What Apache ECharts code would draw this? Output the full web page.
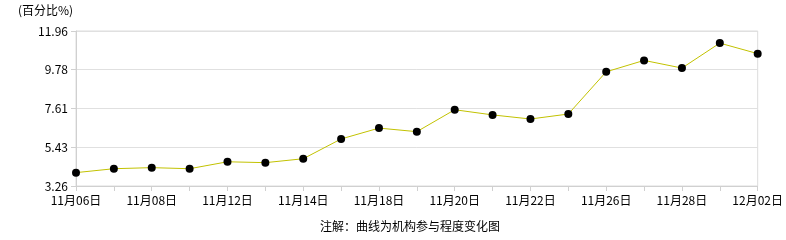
<!DOCTYPE html>
<html><head><meta charset="utf-8">
<script src="https://cdn.jsdelivr.net/npm/echarts@6/dist/echarts.min.js"></script>
<style>html,body{margin:0;padding:0;background:#fff}#c{width:786px;height:240px}</style>
</head><body><div id="c"></div>
<script>
const categories = ['11月06日','11月07日','11月08日','11月11日','11月12日','11月13日','11月14日','11月15日','11月18日','11月19日','11月20日','11月21日','11月22日','11月25日','11月26日','11月27日','11月28日','11月29日','12月02日'];
const values = [4.01,4.23,4.29,4.23,4.62,4.57,4.79,5.90,6.51,6.31,7.54,7.25,7.02,7.30,9.67,10.31,9.88,11.28,10.69];
const yTickLabels = ['3.26','5.43','7.61','9.78','11.96'];
const yMin = 3.26, yMax = 11.96;
const unitLabel = '(百分比%)';
const noteText = '注解：曲线为机构参与程度变化图';

const font = '"Noto Sans CJK SC", "DejaVu Sans", sans-serif';
const chart = echarts.init(document.getElementById('c'), null, {renderer:'canvas'});
const step = (yMax - yMin) / (yTickLabels.length - 1);
chart.setOption({
  animation:false,
  textStyle:{fontFamily:font},
  grid:{left:76,right:26,top:31,bottom:54,show:true,borderColor:'#dcdcdc',borderWidth:1},
  graphic:[
    {type:'text',left:18,top:4,style:{text:unitLabel,font:'12px '+font,fill:'#000'}},
    {type:'text',left:320,top:220,style:{text:noteText,font:'12px '+font,fill:'#000'}}
  ],
  xAxis:{type:'category',data:categories,boundaryGap:false,
    axisLine:{lineStyle:{color:'#d0d0d0'}},
    axisTick:{show:true,interval:0,length:5,lineStyle:{color:'#d0d0d0'}},
    axisLabel:{interval:1,color:'#000',fontSize:12,fontFamily:font,margin:8,showMaxLabel:true},
    splitLine:{show:false}},
  yAxis:{type:'value',min:yMin,max:yMax,interval:step,
    axisLine:{show:true,lineStyle:{color:'#d0d0d0'}},
    axisTick:{show:true,length:5,lineStyle:{color:'#d0d0d0'}},
    axisLabel:{color:'#000',fontSize:12,fontFamily:font,margin:8,
      formatter:function(v){const i=Math.round((v-yMin)/step);return yTickLabels[i]!==undefined?yTickLabels[i]:'';}},
    splitLine:{show:true,lineStyle:{color:'#e0e0e0'}}},
  series:[{type:'line',data:values,symbol:'circle',symbolSize:8,
    itemStyle:{color:'#000'},lineStyle:{color:'#c2c200',width:1}}]
});
</script></body></html>
